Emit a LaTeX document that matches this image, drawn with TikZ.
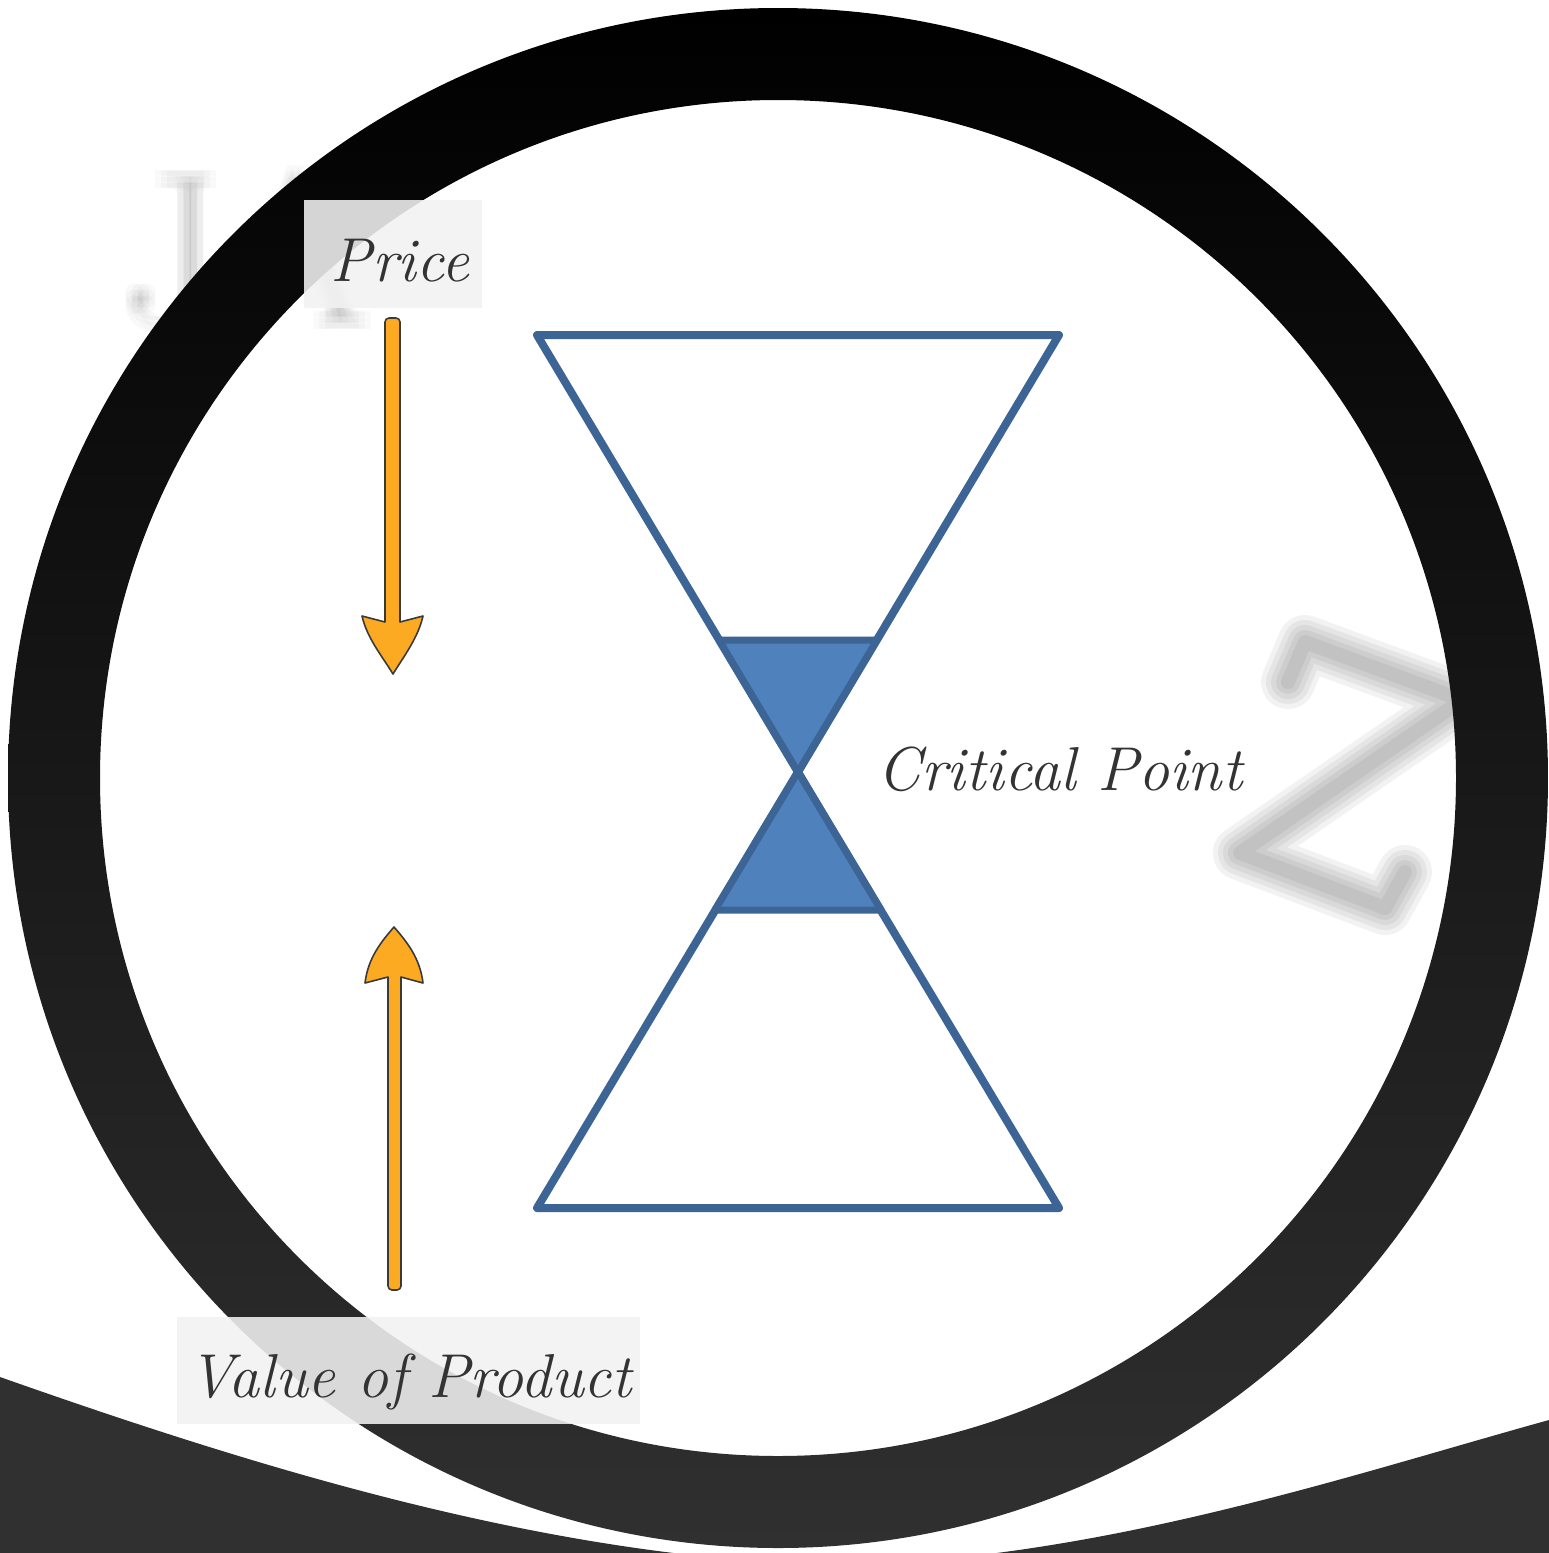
\documentclass[tikz,border=0pt]{standalone}
\usepackage{fontspec}
\definecolor{hgline}{HTML}{3C6494}
\definecolor{hgfill}{HTML}{4F81BD}
\definecolor{arrfill}{HTML}{FCAA22}
\definecolor{arredge}{HTML}{3A3A3A}
\definecolor{boxfill}{HTML}{F2F2F2}
\definecolor{txt}{HTML}{333333}
\definecolor{ringbot}{HTML}{303030}
\definecolor{darkbg}{HTML}{303030}
\begin{document}
\begin{tikzpicture}[x=1pt,y=-1pt,
  hg/.style={draw=hgline, line width=8pt, line join=round},
  hgfill/.style={fill=hgfill, draw=hgline, line width=7pt, line join=round},
  arr/.style={fill=arrfill, draw=arredge, line width=1.6pt, line join=round},
  lbox/.style={fill=boxfill, fill opacity=0.88, inner sep=0pt, anchor=north west},
  lbl/.style={text=txt, anchor=base, inner sep=0pt, font=\fontsize{62}{66}\selectfont\itshape},
  blur/.style={draw=black, opacity=0.05, line cap=round, line join=round}]
\useasboundingbox (0,0) rectangle (1549,1553);
\fill[white] (0,0) rectangle (1549,1553);
% faint blurred background marks
\foreach \dx/\dy in {-6/-6,0/-6,6/-6,-6/0,0/0,6/0,-6/6,0/6,6/6} {
  \node[text=black, text opacity=0.022, anchor=base west, inner sep=0pt, font=\fontsize{215}{215}\selectfont] at (120+\dx,323+\dy) {JA};
}
\foreach \w in {54,44,34,24,14} {
  \draw[blur, line width=\w pt]
    (1288,682) -- (1305,642) -- (1462,700) -- (1240,853) -- (1385,908) -- (1405,872);
}
% dark bottom region
\fill[darkbg] (0,1553) -- (0,1377) .. controls (250,1465) and (550,1560) .. (840,1565)
  .. controls (1100,1560) and (1350,1475) .. (1549,1420) -- (1549,1553) -- cycle;
% ring
\shade[top color=black, bottom color=ringbot, even odd rule]
  (778,778) circle[radius=770] (778,778) circle[radius=678];
% hourglass
\draw[hg] (537,335) -- (1059,335) -- (798,772) -- cycle;
\draw[hg] (537,1208) -- (1059,1208) -- (798,772) -- cycle;
\filldraw[hgfill] (719,640) -- (877,640) -- (798,772) -- cycle;
\filldraw[hgfill] (715,910) -- (881,910) -- (798,772) -- cycle;
% arrows
\filldraw[arr] (385,622) [rounded corners=4] -- (385,318) -- (400,318) [sharp corners] -- (400,622)
  -- (423,616) .. controls (418,638) and (404,656) .. (393,674)
  .. controls (382,656) and (367,638) .. (362,616) -- cycle;
\filldraw[arr] (388,977) [rounded corners=4] -- (388,1290) -- (401,1290) [sharp corners] -- (401,977)
  -- (423,983) .. controls (420,958) and (407,942) .. (394,927)
  .. controls (381,942) and (368,958) .. (365,983) -- cycle;
% label boxes
\node[lbox, minimum width=178pt, minimum height=108pt] (pricebox) at (304,200) {};
\node[lbox, minimum width=463pt, minimum height=107pt] (valuebox) at (177,1317) {};
% labels
\node[lbl] (price) at (400,281) {Price};
\node[lbl] (value) at (410,1397) {Value of Product};
\node[lbl] (crit) at (1060,790) {Critical Point};
\end{tikzpicture}
\end{document}
